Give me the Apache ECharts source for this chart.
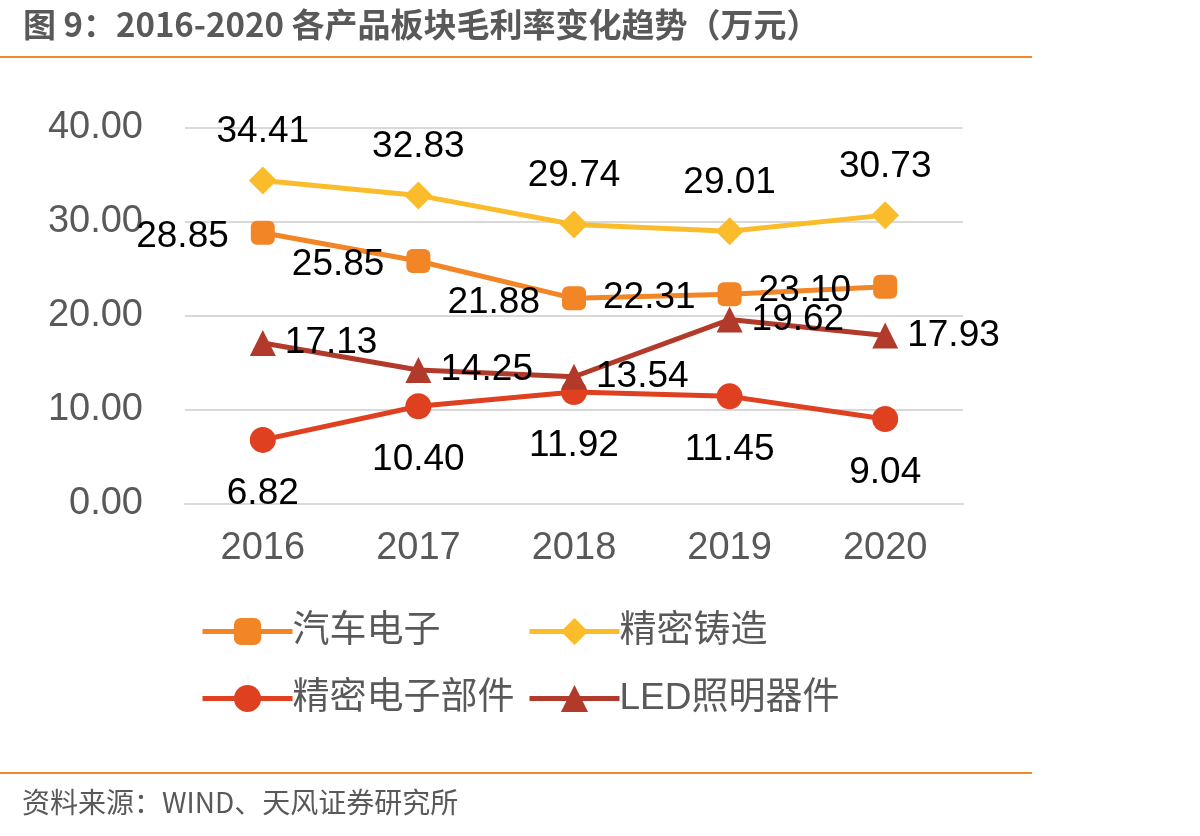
<!DOCTYPE html>
<html><head><meta charset="utf-8">
<script src="https://cdn.jsdelivr.net/npm/echarts@6/dist/echarts.min.js"></script>
<style>html,body{margin:0;padding:0;background:#fff}#c{width:1200px;height:836px}</style>
</head><body><div id="c"></div>
<script>
const years = ['2016','2017','2018','2019','2020'];
const autoElectronics = [28.85, 25.85, 21.88, 22.31, 23.10];
const precisionCasting = [34.41, 32.83, 29.74, 29.01, 30.73];
const precisionParts = [6.82, 10.40, 11.92, 11.45, 9.04];
const ledParts = [17.13, 14.25, 13.54, 19.62, 17.93];
const yTicks = [0, 10, 20, 30, 40];

const FONT = 'Liberation Sans, Arial, Noto Sans CJK SC, sans-serif';
const labelBase = {show: true, color: '#000', fontSize: 37, fontFamily: FONT, formatter: p => p.value.toFixed(2)};

const chart = echarts.init(document.getElementById('c'));
const legendText = {color: '#595959', fontSize: 37, fontFamily: FONT, padding: [0, 0, 0, -5]};
function lg(name, left, top) {
  return {data: [name], left: left, top: top, itemWidth: 90, itemHeight: 34, textStyle: legendText,
    lineStyle: {width: 5}, selectedMode: false, itemGap: 0, padding: 0};
}
chart.setOption({
  animation: false,
  title: {text: '图 9：2016-2020 各产品板块毛利率变化趋势（万元）', left: 18, top: 3,
    textStyle: {color: '#595959', fontSize: 33, fontWeight: 'bold', fontFamily: 'Noto Sans CJK SC, sans-serif'}},
  graphic: [
    {type: 'line', shape: {x1: 0, y1: 57, x2: 1032, y2: 57}, style: {stroke: '#F08A2C', lineWidth: 2}},
    {type: 'line', shape: {x1: 0, y1: 773, x2: 1032, y2: 773}, style: {stroke: '#F08A2C', lineWidth: 2}},
    {type: 'text', left: 22, top: 788, style: {text: '资料来源：WIND、天风证券研究所', fill: '#595959', fontSize: 28, fontFamily: 'Noto Sans CJK SC, sans-serif'}}
  ],
  legend: [lg('汽车电子', 200, 613), lg('精密铸造', 527, 613), lg('精密电子部件', 200, 680), lg('LED照明器件', 527, 680)],
  grid: {left: 185, right: 237, top: 128, bottom: 332},
  xAxis: {type: 'category', data: years, boundaryGap: true,
    axisLine: {lineStyle: {color: '#D9D9D9', width: 2}}, axisTick: {show: false},
    axisLabel: {color: '#595959', fontSize: 38, fontFamily: FONT, margin: 26}},
  yAxis: {type: 'value', min: yTicks[0], max: yTicks[yTicks.length - 1], interval: 10,
    axisLine: {show: false}, axisTick: {show: false},
    splitLine: {lineStyle: {color: '#D9D9D9', width: 2}},
    axisLabel: {color: '#595959', fontSize: 38, fontFamily: FONT, margin: 42, formatter: v => v.toFixed(2)}},
  series: [
    {name: '汽车电子', type: 'line', data: autoElectronics, symbol: 'roundRect', symbolSize: 24,
      itemStyle: {color: '#F28526'}, lineStyle: {width: 5, color: '#F28526'},
      label: Object.assign({}, labelBase, {position: 'left', distance: 22, offset: [0, 4]}), z: 3},
    {name: '精密铸造', type: 'line', data: precisionCasting, symbol: 'diamond', symbolSize: 28,
      itemStyle: {color: '#FBBC2C'}, lineStyle: {width: 5, color: '#FBBC2C'},
      label: Object.assign({}, labelBase, {position: 'top', distance: 16}), z: 4},
    {name: '精密电子部件', type: 'line', data: precisionParts, symbol: 'circle', symbolSize: 26,
      itemStyle: {color: '#DF401F'}, lineStyle: {width: 5, color: '#DF401F'},
      label: Object.assign({}, labelBase, {position: 'bottom', distance: 22}), z: 2},
    {name: 'LED照明器件', type: 'line', data: ledParts, symbol: 'triangle', symbolSize: 26,
      itemStyle: {color: '#B23A2B'}, lineStyle: {width: 5, color: '#B23A2B'},
      label: Object.assign({}, labelBase, {position: 'right', distance: 9}), z: 2}
  ]
});
</script></body></html>
